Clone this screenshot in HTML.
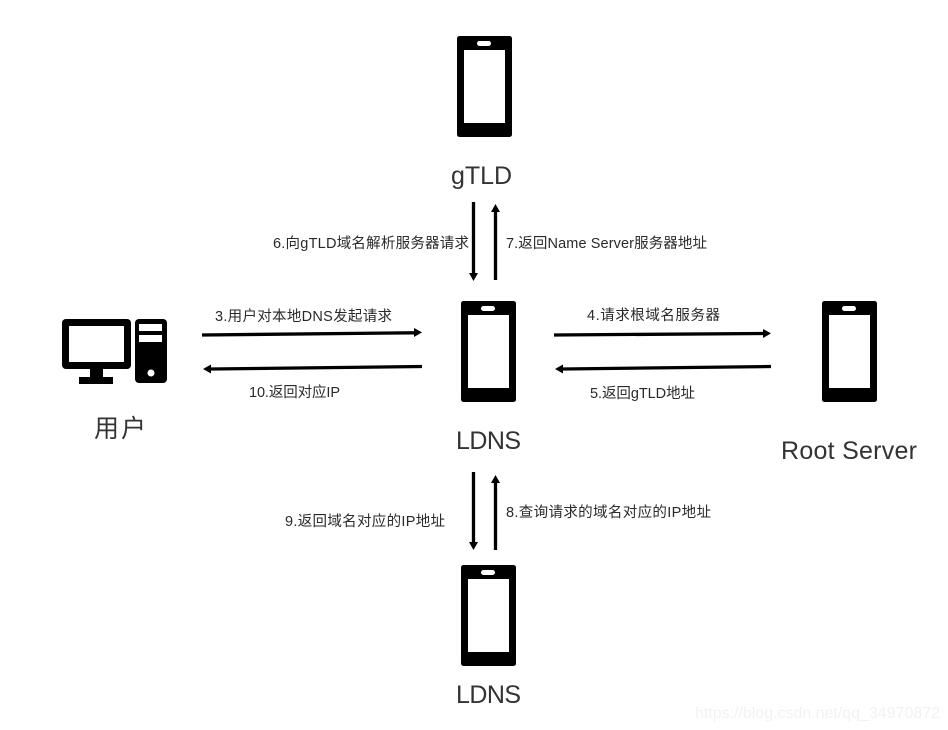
<!DOCTYPE html>
<html><head><meta charset="utf-8"><style>
html,body{margin:0;padding:0;background:#fff;width:948px;height:730px;overflow:hidden}
svg{display:block}
text{font-family:"Liberation Sans","Noto Sans CJK SC",sans-serif;fill:#2a2a2a}
.s{font-size:14.500px}
.b{font-size:25px;fill:#333}
</style></head><body>
<svg width="948" height="730" viewBox="0 0 948 730" xmlns="http://www.w3.org/2000/svg">
<defs>
<g id="p">
<rect x="0" y="0" width="55" height="101" rx="2.5" fill="#000"/>
<rect x="7" y="14" width="41" height="73" fill="#fff"/>
<rect x="20" y="5" width="14" height="5" rx="2.5" fill="#fff"/>
</g>
</defs>
<rect width="948" height="730" fill="#fff"/>
<use href="#p" x="457" y="36"/>
<use href="#p" x="461" y="301"/>
<use href="#p" x="822" y="301"/>
<use href="#p" x="461" y="565"/>

<!-- computer -->
<rect x="62" y="319" width="69" height="50" rx="4" fill="#000"/>
<rect x="69" y="326" width="55" height="36" fill="#fff"/>
<rect x="90" y="369" width="13" height="8" fill="#000"/>
<rect x="79" y="377" width="34" height="7" fill="#000"/>
<rect x="135" y="319" width="32" height="64" rx="4" fill="#000"/>
<rect x="139" y="324" width="23" height="7" fill="#fff"/>
<rect x="139" y="335" width="23" height="7" fill="#fff"/>
<circle cx="151" cy="373" r="3.500" fill="#fff"/>

<!-- arrows -->
<g stroke="#000" stroke-width="3.300" fill="none">
<line x1="473.500" y1="202" x2="473.500" y2="273"/>
<line x1="495.500" y1="280" x2="495.500" y2="212"/>
<line x1="473.500" y1="472" x2="473.500" y2="542"/>
<line x1="495.500" y1="550" x2="495.500" y2="483"/>
<line x1="202" y1="335" x2="414" y2="332.800"/>
<line x1="422" y1="366.500" x2="211" y2="369"/>
<line x1="554" y1="335" x2="763" y2="333.500"/>
<line x1="771" y1="366.500" x2="563" y2="369"/>
</g>
<g fill="#000">
<polygon points="469,273 478,273 473.500,281"/>
<polygon points="491,212 500,212 495.500,204"/>
<polygon points="469,542 478,542 473.500,550"/>
<polygon points="491,483 500,483 495.500,475"/>
<polygon points="414,328 414,337 422,332.400"/>
<polygon points="211,364.500 211,373.500 203,369"/>
<polygon points="763,329 763,338 771,333.400"/>
<polygon points="563,364.500 563,373.500 555,369"/>
</g>

<!-- big labels -->
<text class="b" x="451" y="184" textLength="61">gTLD</text>
<text class="b" x="456" y="449" textLength="65">LDNS</text>
<text class="b" x="781" y="459" textLength="136">Root Server</text>
<text class="b" x="456" y="703" textLength="65">LDNS</text>
<text class="b" x="94" y="437" textLength="52">用户</text>

<!-- small labels -->
<text class="s" x="273" y="248" textLength="196">6.向gTLD域名解析服务器请求</text>
<text class="s" x="506" y="248" textLength="201">7.返回Name Server服务器地址</text>
<text class="s" x="215" y="321" textLength="177">3.用户对本地DNS发起请求</text>
<text class="s" x="249" y="397" textLength="91">10.返回对应IP</text>
<text class="s" x="587" y="320" textLength="133">4.请求根域名服务器</text>
<text class="s" x="590" y="398" textLength="105">5.返回gTLD地址</text>
<text class="s" x="285" y="526" textLength="160">9.返回域名对应的IP地址</text>
<text class="s" x="506" y="517" textLength="205">8.查询请求的域名对应的IP地址</text>

<text x="695" y="718" font-size="16" textLength="245" style="fill:#f2f2f2">https://blog.csdn.net/qq_34970872</text>
</svg>
</body></html>
